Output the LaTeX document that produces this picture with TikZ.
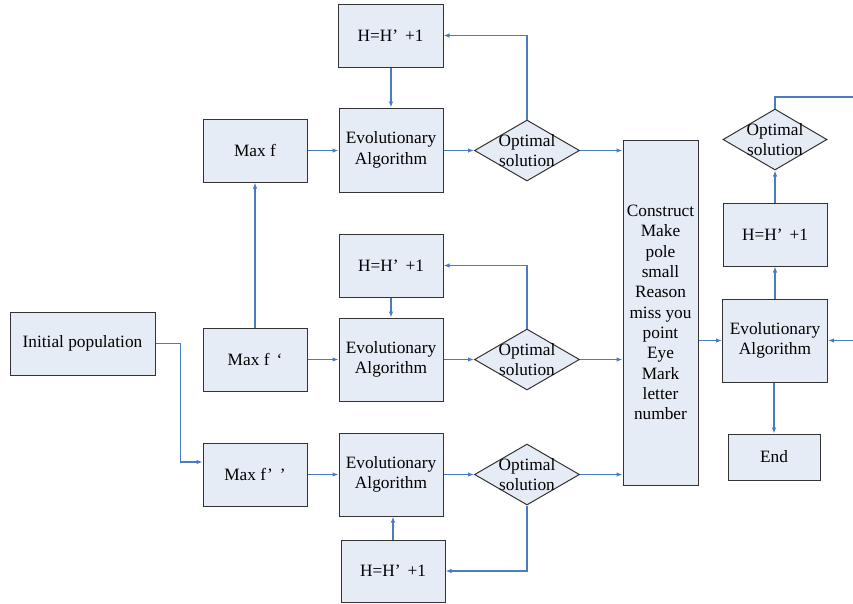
\documentclass[tikz,border=0pt]{standalone}
\usepackage{fontspec}
\setmainfont{Liberation Serif}
\usetikzlibrary{shapes.geometric,arrows.meta}
\definecolor{boxfill}{HTML}{E6ECF6}
\definecolor{linec}{HTML}{4A7CC4}
\begin{document}
\begin{tikzpicture}[x=1pt,y=-1pt,
 box/.style={draw=black!80, line width=1pt, fill=boxfill, inner sep=0pt, align=center, font=\fontsize{17.3}{20.3}\selectfont},
 dia/.style={draw=black!80, line width=1pt, fill=boxfill, diamond, inner sep=0pt, minimum width=105pt, minimum height=61pt},
 dtext/.style={align=center, font=\fontsize{17.3}{20.3}\selectfont, inner sep=0pt},
 conn/.style={draw=linec, line width=1.1pt, -{Latex[length=6pt,width=4.5pt]}},
 plain/.style={draw=linec, line width=1.1pt}]
\useasboundingbox (0,0) rectangle (853,603);

% nodes
\node[box, minimum width=145pt, minimum height=63pt] (init) at (82.5,343.5) {Initial population};
\node[box, minimum width=104pt, minimum height=63pt] (mf1) at (255,150.5) {Max f};
\node[box, minimum width=104pt, minimum height=63pt] (mf2) at (255,359.5) {Max f\hspace{7pt}‘};
\node[box, minimum width=104pt, minimum height=63pt] (mf3) at (255,474.5) {Max f’\hspace{7pt}’};

\node[box, minimum width=105pt, minimum height=63pt] (h1) at (390.5,35.5) {H=H’\hspace{7pt}+1};
\node[box, minimum width=104pt, minimum height=84pt] (ea1) at (391,150) {Evolutionary\\Algorithm};
\node[dia, label={[dtext]center:Optimal\\solution}] (d1) at (527,150.5) {};

\node[box, minimum width=104pt, minimum height=63pt] (h2) at (391,265.5) {H=H’\hspace{7pt}+1};
\node[box, minimum width=104pt, minimum height=83pt] (ea2) at (391,359.5) {Evolutionary\\Algorithm};
\node[dia, label={[dtext]center:Optimal\\solution}] (d2) at (527,359.5) {};

\node[box, minimum width=104pt, minimum height=83pt] (ea3) at (391,474.5) {Evolutionary\\Algorithm};
\node[dia, label={[dtext]center:Optimal\\solution}] (d3) at (527,474.5) {};
\node[box, minimum width=104pt, minimum height=62pt] (h3) at (393,571) {H=H’\hspace{7pt}+1};

\node[box, minimum width=75pt, minimum height=345pt] (con) at (660.5,312.5) {Construct\\Make\\pole\\small\\Reason\\miss you\\point\\Eye\\Mark\\letter\\number};

\node[box, minimum width=105pt, minimum height=83pt] (ear) at (775,340.5) {Evolutionary\\Algorithm};
\node[box, minimum width=104pt, minimum height=63pt] (hr) at (775,234.5) {H=H’\hspace{7pt}+1};
\node[dia, minimum width=104pt, label={[dtext]center:Optimal\\solution}] (dr) at (775,139.5) {};
\node[box, minimum width=92pt, minimum height=46pt] (end) at (774,457) {End};

\coordinate (rt) at (853,97);
\coordinate (rin) at (853,340.5);

% connectors
\draw[conn] (init.east) -- ++(25,0) |- ([yshift=12.5pt]mf3.west);
\draw[conn] (mf2.north) -- (mf1.south);
\draw[conn] (mf1.east) -- (ea1.west |- mf1.east);
\draw[conn] (mf2.east) -- (ea2.west |- mf2.east);
\draw[conn] (mf3.east) -- (ea3.west |- mf3.east);

\draw[conn] (ea1.east |- d1.west) -- (d1.west);
\draw[conn] (ea2.east |- d2.west) -- (d2.west);
\draw[conn] (ea3.east |- d3.west) -- (d3.west);

\draw[conn] (d1.north) |- (h1.east);
\draw[conn] (h1.south -| ea1.north) -- (ea1.north);
\draw[conn] (d2.north) |- (h2.east);
\draw[conn] (h2.south) -- (h2.south |- ea2.north);
\draw[conn] (d3.south) |- (h3.east);
\draw[conn] (h3.north) -- (h3.north |- ea3.south);

\draw[conn] (d1.east) -- (con.west |- d1.east);
\draw[conn] (d2.east) -- (con.west |- d2.east);
\draw[conn] (d3.east) -- (con.west |- d3.east);

\draw[conn] (con.east |- ear.west) -- (ear.west);
\draw[conn] (ear.north) -- (hr.south);
\draw[conn] (hr.north) -- (dr.south);
\draw[conn] (end.north |- ear.south) -- (end.north);
\draw[plain] (dr.north) |- (rt);
\draw[conn] (rin) -- (ear.east);
\end{tikzpicture}
\end{document}
